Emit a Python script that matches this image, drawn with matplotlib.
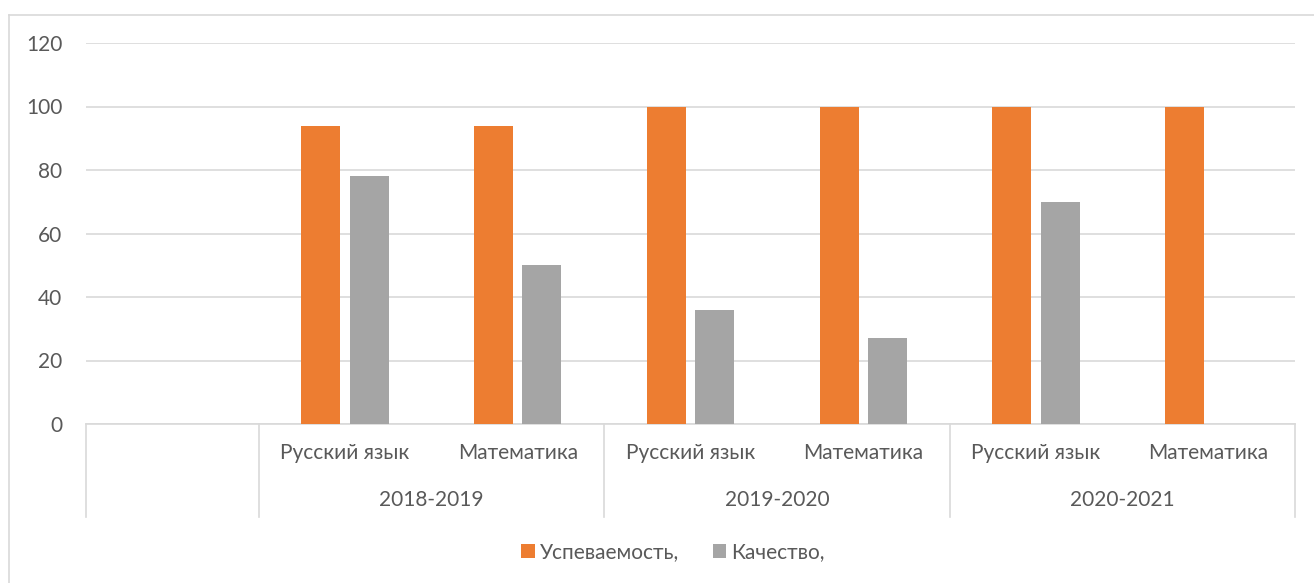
import numpy as np
import matplotlib
matplotlib.use("Agg")
import matplotlib.pyplot as plt
from matplotlib.lines import Line2D
from matplotlib.patches import Patch
import matplotlib.transforms as mtransforms

# ---- data ----
subjects = ["", "Русский язык", "Математика", "Русский язык", "Математика", "Русский язык", "Математика"]
years = ["2018-2019", "2019-2020", "2020-2021"]
uspevaemost = [np.nan, 94, 94, 100, 100, 100, 100]
kachestvo = [np.nan, 78, 50, 36, 27, 70, np.nan]
series_names = ["Успеваемость,", "Качество,"]
yticks = [0, 20, 40, 60, 80, 100, 120]

ORANGE = "#ED7D31"
GRAY = "#A5A5A5"
TXT = "#595959"
GRID = "#D9D9D9"
FS = 15

plt.rcParams['font.family'] = ['Lato', 'DejaVu Sans']

W, H = 1314, 583
fig = plt.figure(figsize=(W / 100, H / 100), dpi=100)

left, right, top, bottom = 86, 1295, 43, 424
ax = fig.add_axes([left / W, 1 - bottom / H, (right - left) / W, (bottom - top) / H])

x = np.arange(len(subjects))
bw = 0.226
off = 0.14
ax.bar(x - off, uspevaemost, width=bw, color=ORANGE, zorder=3)
ax.bar(x + off, kachestvo, width=bw, color=GRAY, zorder=3)

ax.set_xlim(-0.5, len(subjects) - 0.5)
ax.set_ylim(0, 120)
ax.set_yticks(yticks)
ax.yaxis.grid(True, color=GRID, linewidth=1.2, zorder=0)
ax.set_axisbelow(True)
for s in ["top", "right", "left"]:
    ax.spines[s].set_visible(False)
ax.spines["bottom"].set_color(GRID)
ax.spines["bottom"].set_linewidth(1.2)
ax.tick_params(axis="y", length=0, pad=17, labelsize=FS, labelcolor=TXT)
ax.set_xticks([])

trans = mtransforms.blended_transform_factory(ax.transData, ax.transAxes)
axh = bottom - top
y_sep = -(517 - bottom) / axh
y_sub = -(453 - bottom) / axh
y_year = -(500 - bottom) / axh

# separators of multi-level category axis
sep_x = [-0.5, 0.5, 2.5, 4.5, 6.5]
for sx in sep_x:
    ax.add_line(Line2D([sx, sx], [0, y_sep], transform=trans, color=GRID,
                       linewidth=1.2, clip_on=False))

for xi, lab in zip(x, subjects):
    if lab:
        ax.text(xi, y_sub, lab, transform=trans, ha="center", va="center",
                fontsize=FS, color=TXT)
for i, yr in enumerate(years):
    ax.text(1.5 + 2 * i, y_year, yr, transform=trans, ha="center", va="center",
            fontsize=FS, color=TXT)

# legend
handles = [Patch(facecolor=ORANGE, edgecolor="none"), Patch(facecolor=GRAY, edgecolor="none")]
fig.legend(handles, series_names, loc="center", bbox_to_anchor=(673 / W, 1 - 552 / H),
           ncol=2, frameon=False, fontsize=FS, labelcolor=TXT,
           handlelength=0.65, handleheight=0.65, handletextpad=0.25, columnspacing=1.6)

# chart area border
fig.add_artist(Line2D([9 / W, 1.0], [1 - 15 / H, 1 - 15 / H], transform=fig.transFigure,
                      color=GRID, linewidth=1.2))
fig.add_artist(Line2D([9 / W, 9 / W], [0, 1 - 15 / H], transform=fig.transFigure,
                      color=GRID, linewidth=1.2))

fig.savefig("out.png", dpi=100, facecolor="white")
